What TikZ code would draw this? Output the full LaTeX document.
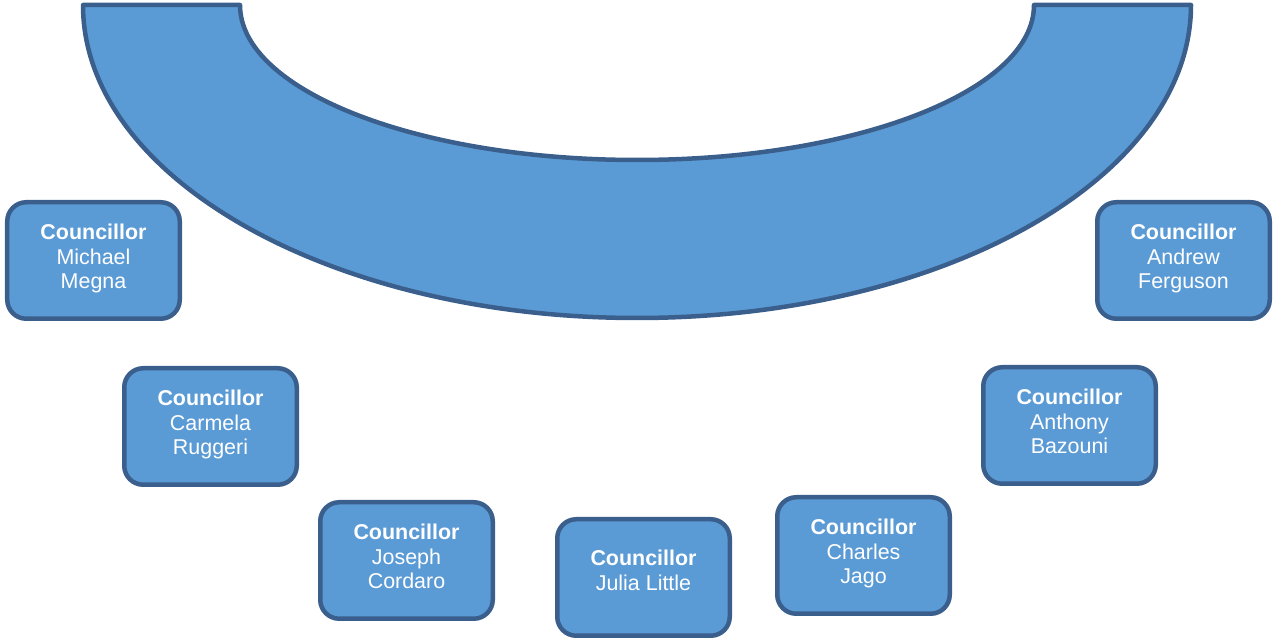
\documentclass[tikz,border=0pt]{standalone}
\usepackage{fontspec}
\setmainfont{Liberation Sans}
\usetikzlibrary{positioning}
\definecolor{seatfill}{HTML}{5B9BD5}
\definecolor{seatline}{HTML}{3A5F8C}

\begin{document}
\begin{tikzpicture}[auto ,node distance =2 cm and 3cm ,on grid ,
line width=0.09cm ,
councillor/.style ={ rectangle ,rounded corners=0.38cm ,fill=seatfill ,
draw=seatline , text=white , align=center ,
minimum width =3.45cm , minimum height =2.33cm ,
font=\fontsize{12.2}{14.2}\selectfont ,
execute at begin node={\rule{0pt}{11pt}},
execute at end node={\rule[-#1]{0pt}{#1}}},
councillor/.default=4.8pt ,
bench/.style={fill=seatfill ,draw=seatline ,line join=round}
]
\useasboundingbox (0,0) rectangle (25.48,12.8);
% the bench
\draw[bench] (1.66,12.7) arc[start angle=180, end angle=360, x radius=11.08, y radius=6.26]
  -- (20.68,12.7) arc[start angle=0, end angle=-180, x radius=7.94, y radius=3.10] -- cycle;
% the seats
\node[councillor] (megna) at (1.87,7.59) {\textbf{Councillor}\\Michael\\Megna};
\node[councillor] (ruggeri) [below right = 3.32cm and 2.34cm of megna] {\textbf{Councillor}\\Carmela\\Ruggeri};
\node[councillor] (cordaro) [below right = 2.68cm and 3.92cm of ruggeri] {\textbf{Councillor}\\Joseph\\Cordaro};
\node[councillor=8.8pt] (little) [below right = 0.34cm and 4.74cm of cordaro] {\textbf{Councillor}\\Julia Little};
\node[councillor] (jago) [above right = 0.44cm and 4.40cm of little] {\textbf{Councillor}\\Charles\\Jago};
\node[councillor] (bazouni) [above right = 2.60cm and 4.12cm of jago] {\textbf{Councillor}\\Anthony\\Bazouni};
\node[councillor] (ferguson) [above right = 3.30cm and 2.28cm of bazouni] {\textbf{Councillor}\\Andrew\\Ferguson};
\end{tikzpicture}
\end{document}
